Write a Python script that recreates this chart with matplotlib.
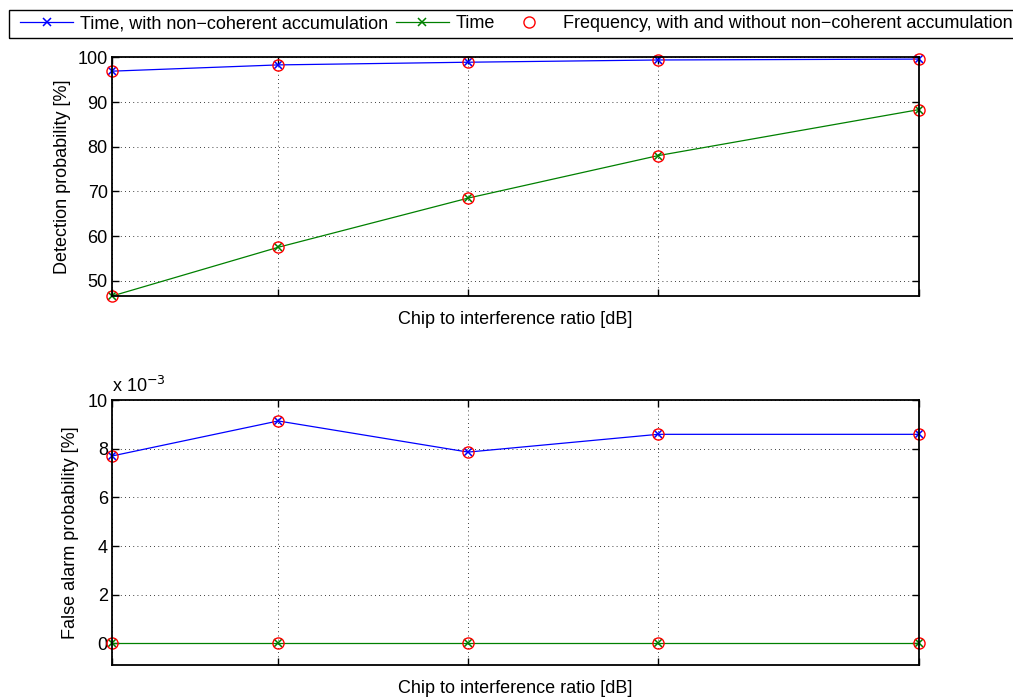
import matplotlib
matplotlib.use("Agg")
import matplotlib.pyplot as plt
from matplotlib.patches import Rectangle
import numpy as np

plt.rcParams['font.family'] = ['Liberation Sans', 'DejaVu Sans']
plt.rcParams['font.size'] = 13

# chip to interference ratio [dB] (no tick labels shown)
cir = [0, 3.5, 7.5, 11.5, 17]

# detection probability [%]
pd_time_nc = [96.9, 98.3, 98.9, 99.4, 99.6]
pd_time = [46.6, 57.5, 68.5, 78.0, 88.3]
pd_freq_nc = [96.9, 98.3, 98.9, 99.4, 99.6]
pd_freq = [46.6, 57.5, 68.5, 78.0, 88.3]

# false alarm probability [%]
pfa_time_nc = [0.0077, 0.00914, 0.00786, 0.00859, 0.00859]
pfa_time = [0, 0, 0, 0, 0]
pfa_freq_nc = [0.0077, 0.00914, 0.00786, 0.00859, 0.00859]
pfa_freq = [0, 0, 0, 0, 0]

fig = plt.figure(figsize=(10.13, 6.98), dpi=100)
ax1 = fig.add_axes([0.1106, 0.5759, 0.7966, 0.3420])
ax2 = fig.add_axes([0.1106, 0.0473, 0.7966, 0.3796])


def style_axes(ax):
    ax.set_xlim(cir[0], cir[-1])
    ax.set_xticks(cir)
    ax.set_xticklabels([])
    ax.grid(True, color='black', linestyle=(0, (1, 4)), linewidth=0.6)
    ax.tick_params(direction='in', top=True, right=True, length=5, width=1.0,
                   labelsize=13, pad=3)
    for s in ax.spines.values():
        s.set_linewidth(1.3)
    ax.set_xlabel('Chip to interference ratio [dB]', labelpad=8)


line_kw = dict(linewidth=0.9, marker='x', markersize=6, markeredgewidth=1.1)
circ_kw = dict(linestyle='none', marker='o', markersize=8, markerfacecolor='none',
               markeredgecolor='red', markeredgewidth=1.0)

# top: detection probability
h1, = ax1.plot(cir, pd_time_nc, color='blue', **line_kw)
h2, = ax1.plot(cir, pd_time, color='green', **line_kw)
h3, = ax1.plot(cir, pd_freq_nc, **circ_kw)
h4, = ax1.plot(cir, pd_freq, **circ_kw)
style_axes(ax1)
ax1.set_ylim(46.6, 100)
ax1.set_yticks([50, 60, 70, 80, 90, 100])
ax1.set_ylabel('Detection probability [%]', labelpad=5)
for h in (h1, h2, h3, h4):
    h.set_clip_on(False)

# bottom: false alarm probability, drawn in units of 1e-3
scale = 1e3
lines = [
    ax2.plot(cir, np.array(pfa_time_nc) * scale, color='blue', **line_kw)[0],
    ax2.plot(cir, np.array(pfa_time) * scale, color='green', **line_kw)[0],
    ax2.plot(cir, np.array(pfa_freq_nc) * scale, **circ_kw)[0],
    ax2.plot(cir, np.array(pfa_freq) * scale, **circ_kw)[0],
]
for h in lines:
    h.set_clip_on(False)
style_axes(ax2)
ax2.set_ylim(-0.89, 10)
ax2.set_yticks([0, 2, 4, 6, 8, 10])
ax2.set_ylabel('False alarm probability [%]', labelpad=6)
ax2.text(0.0, 1.015, r'x 10$^{-3}$', transform=ax2.transAxes, fontsize=13,
         ha='left', va='bottom')

leg = fig.legend([h1, h2, h3],
                 ['Time, with non\u2212coherent accumulation', 'Time',
                  'Frequency, with and without non\u2212coherent accumulation'],
                 loc='upper left', bbox_to_anchor=(0.0145, 0.986), ncol=3,
                 fontsize=13, handlelength=2.95, handletextpad=0.39,
                 columnspacing=0.4, borderpad=0.3, borderaxespad=0,
                 frameon=False)

# legend box with wider side padding than top/bottom
fig.canvas.draw()
bb = leg.get_window_extent().transformed(fig.transFigure.inverted())
side = 6 / fig.bbox.width
fig.patches.append(Rectangle((bb.x0 - side, bb.y0), bb.width + 4 * side, bb.height,
                             transform=fig.transFigure, facecolor='none',
                             edgecolor='black', linewidth=1.0, zorder=5))

fig.savefig('out.png', dpi=100)
